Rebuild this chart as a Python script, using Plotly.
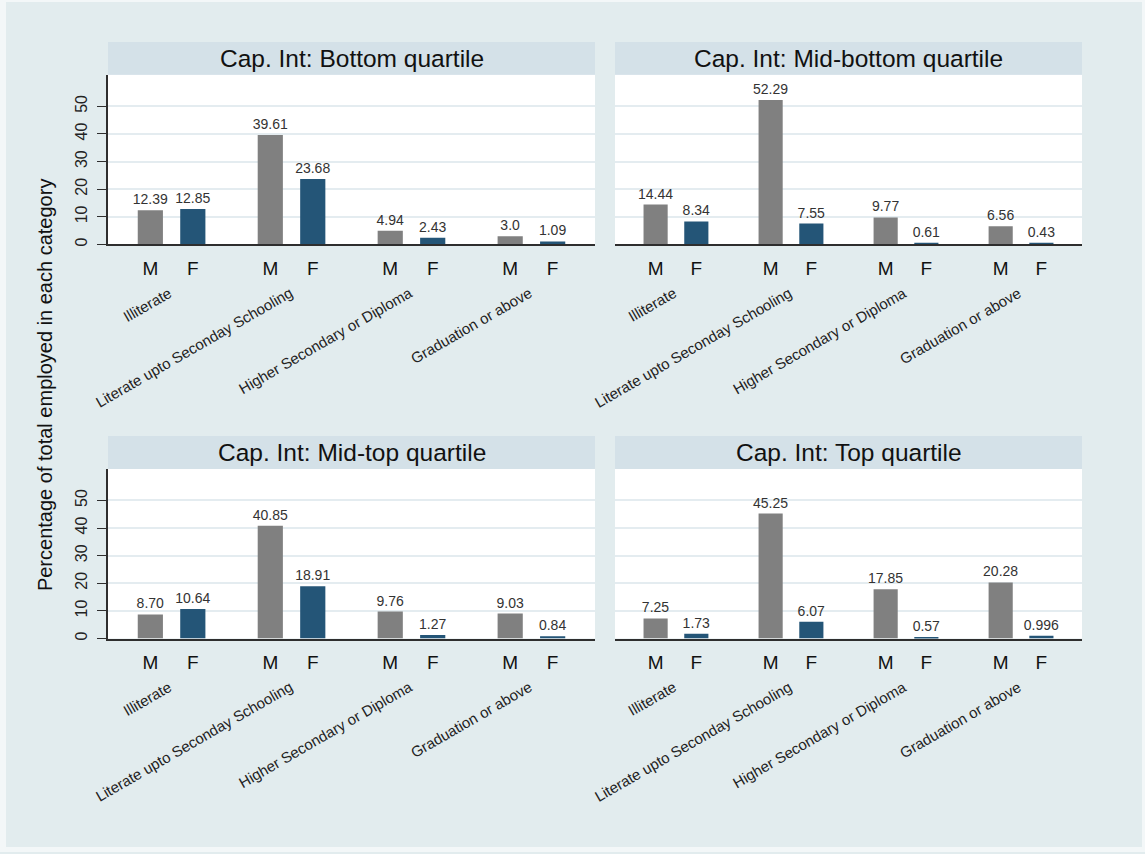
import plotly.graph_objects as go

# ---------------- data ----------------
categories = ["Illiterate", "Literate upto Seconday Schooling",
              "Higher Secondary or Diploma", "Graduation or above"]
sex_labels = ["M", "F"]
panel_titles = ["Cap. Int: Bottom quartile", "Cap. Int: Mid-bottom quartile",
                "Cap. Int: Mid-top quartile", "Cap. Int: Top quartile"]

bottom_male = ["12.39", "39.61", "4.94", "3.0"]
bottom_female = ["12.85", "23.68", "2.43", "1.09"]
midbottom_male = ["14.44", "52.29", "9.77", "6.56"]
midbottom_female = ["8.34", "7.55", "0.61", "0.43"]
midtop_male = ["8.70", "40.85", "9.76", "9.03"]
midtop_female = ["10.64", "18.91", "1.27", "0.84"]
top_male = ["7.25", "45.25", "17.85", "20.28"]
top_female = ["1.73", "6.07", "0.57", "0.996"]

y_ticks = [0, 10, 20, 30, 40, 50]
y_title = "Percentage of total employed in each category"

male_series = [bottom_male, midbottom_male, midtop_male, top_male]
female_series = [bottom_female, midbottom_female, midtop_female, top_female]

# ---------------- style / geometry ----------------
W, H = 1145, 854
BG = "#e2ecee"
EDGE = "#f3f7f8"
STRIP = "#d4e1e8"
GREY = "#808080"
BLUE = "#245577"
GRID = "#e4ecf0"
AXIS = "#2e2e2e"
FONT = "Liberation Sans, Arial, sans-serif"

# plot areas in pixels: (x0, x1, ytop, ybottom)
boxes = [(108, 595, 75, 245), (615, 1082, 75, 245),
         (108, 595, 470, 640), (615, 1082, 470, 640)]
STRIP_H = 33
BARGAP = 0.292
BARGROUPGAP = 0.407
XRANGE = [-0.53, 3.53]
YRANGE = [0, 61.4]


def px_x(p):
    return p / W


def px_y(p):
    return 1 - p / H


fig = go.Figure()
group_idx = list(range(len(categories)))
half = (1 - BARGAP) / 4

annotations = []
shapes = []
layout_axes = {}

for k in range(4):
    ax = "" if k == 0 else str(k + 1)
    xref, yref = "x" + ax, "y" + ax
    x0, x1, yt, yb = boxes[k]
    for name, series, color in (("M", male_series[k], GREY),
                                ("F", female_series[k], BLUE)):
        fig.add_trace(go.Bar(
            x=group_idx, y=[float(v) for v in series], text=series,
            name=name, marker=dict(color=color, line=dict(width=0)),
            textposition="outside", constraintext="none", cliponaxis=False,
            textfont=dict(size=14, color="#333333", family=FONT),
            xaxis=xref, yaxis=yref, showlegend=False, hoverinfo="skip"))

    tickvals, ticktext = [], []
    for i in group_idx:
        tickvals += [i - half, i + half]
        ticktext += sex_labels

    left = k in (0, 2)
    layout_axes["xaxis" + ax] = dict(
        domain=[px_x(x0), px_x(x1)], range=XRANGE, anchor=yref,
        showgrid=False, zeroline=False, showline=True, linecolor=AXIS,
        linewidth=2, ticks="", tickvals=tickvals, ticktext=ticktext,
        tickfont=dict(size=19, color="#111111", family=FONT),
        ticklabelstandoff=6, fixedrange=True)
    layout_axes["yaxis" + ax] = dict(
        domain=[px_y(yb), px_y(yt)], range=YRANGE, anchor=xref,
        tickvals=y_ticks, showgrid=True, gridcolor=GRID, gridwidth=2,
        zeroline=False, showline=left, linecolor=AXIS, linewidth=1.5,
        ticks="outside" if left else "", ticklen=9, tickcolor=AXIS,
        tickwidth=1, showticklabels=left, tickangle=-90,
        tickfont=dict(size=16, color="#222222", family=FONT),
        ticklabelstandoff=4, fixedrange=True)

    # header strip
    shapes.append(dict(type="rect", xref="paper", yref="paper",
                       x0=px_x(x0), x1=px_x(x1), y0=px_y(yt),
                       y1=px_y(yt - STRIP_H), fillcolor=STRIP,
                       line=dict(width=0), layer="below"))
    annotations.append(dict(text=panel_titles[k], xref="paper", yref="paper",
                            x=px_x((x0 + x1) / 2), y=px_y(yt - STRIP_H / 2),
                            xanchor="center", yanchor="middle", showarrow=False,
                            font=dict(size=24.5, color="#111111", family=FONT)))
    # rotated category labels
    for i, c in enumerate(categories):
        annotations.append(dict(text=c, xref=xref, yref=yref + " domain",
                                x=i, y=-37 / (yb - yt), xshift=6,
                                xanchor="right", yanchor="top", textangle=-30,
                                showarrow=False,
                                font=dict(size=15, color="#222222", family=FONT)))

annotations.append(dict(text=y_title, xref="paper", yref="paper",
                        x=px_x(45), y=px_y(386), textangle=-90,
                        xanchor="center", yanchor="middle", showarrow=False,
                        font=dict(size=20, color="#111111", family=FONT)))

# light outer frame
for (a, b, c, d) in ((0, 6, 0, H), (0, W, 0, 2), (1142, W, 0, H), (0, W, 849, H)):
    shapes.append(dict(type="rect", xref="paper", yref="paper",
                       x0=px_x(a), x1=px_x(b), y0=px_y(d), y1=px_y(c),
                       fillcolor=EDGE, line=dict(width=0), layer="below"))

fig.update_layout(
    width=W, height=H, autosize=False,
    margin=dict(l=0, r=0, t=0, b=0, pad=0),
    paper_bgcolor=BG, plot_bgcolor="white",
    barmode="group", bargap=BARGAP, bargroupgap=BARGROUPGAP,
    font=dict(family=FONT),
    annotations=annotations, shapes=shapes, **layout_axes)

fig.write_html("out.html")
